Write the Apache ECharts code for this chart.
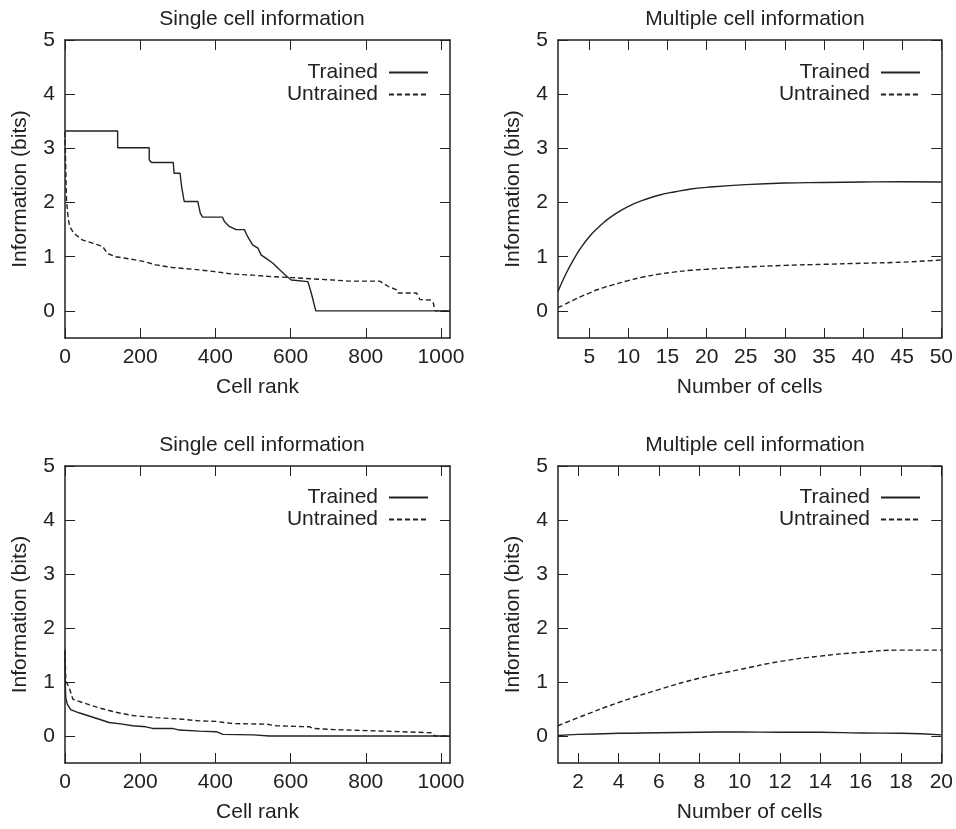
<!DOCTYPE html>
<html>
<head>
<meta charset="utf-8">
<script src="https://cdn.jsdelivr.net/npm/echarts@6/dist/echarts.min.js"></script>
<style>
  html, body { margin: 0; padding: 0; background: #fff; }
  #main { width: 956px; height: 829px; }
</style>
</head>
<body>
<div id="main"></div>
<script>
// single cell information, top panel: [cell rank, bits]
var rankTrainedTop = [[0,3.32],[140,3.32],[140,3.01],[224,3.01],[224,2.79],[230,2.74],[288,2.74],[290,2.54],[306,2.54],[310,2.3],[317,2.02],[353,2.02],[360,1.8],[366,1.73],[419,1.73],[424,1.65],[437,1.56],[455,1.5],[477,1.5],[486,1.37],[499,1.22],[513,1.16],[522,1.03],[535,0.97],[553,0.88],[571,0.76],[588,0.65],[602,0.57],[606,0.54],[646,0.54],[652,0.4],[655,0.33],[660,0.3],[667,0],[1024,0]];
var rankUntrainedTop = [[0,3.3],[2,2.6],[4,2.05],[8,1.75],[12,1.56],[24,1.43],[46,1.31],[73,1.25],[100,1.19],[113,1.06],[135,1.0],[180,0.95],[211,0.91],[242,0.85],[286,0.8],[340,0.77],[393,0.73],[446,0.68],[499,0.66],[553,0.63],[606,0.615],[660,0.59],[713,0.57],[757,0.55],[837,0.55],[860,0.45],[882,0.39],[886,0.33],[935,0.33],[944,0.21],[971,0.2],[980,0.14],[984,0],[1024,0]];

// multiple cell information, top panel
var cellsTop = [1,2,3,4,5,6,7,8,10,12,14,16,18,20,25,30,35,40,45,50];
var multiTrainedTop = [0.36,0.68,0.95,1.18,1.37,1.52,1.65,1.76,1.93,2.05,2.14,2.2,2.25,2.28,2.33,2.36,2.37,2.38,2.385,2.38];
var multiUntrainedTop = [0.06,0.13,0.2,0.27,0.33,0.39,0.44,0.48,0.56,0.63,0.68,0.72,0.75,0.77,0.81,0.84,0.86,0.88,0.9,0.94];

// single cell information, bottom panel
var rankTrainedBot = [[0,1.55],[1,0.9],[2,0.71],[6,0.59],[15,0.49],[37,0.43],[64,0.37],[91,0.31],[117,0.25],[153,0.22],[180,0.19],[215,0.17],[233,0.14],[286,0.14],[304,0.11],[357,0.09],[402,0.08],[420,0.03],[500,0.02],[544,0],[1024,0]];
var rankUntrainedBot = [[0,1.6],[2,1.02],[11,0.9],[21,0.68],[46,0.62],[91,0.52],[135,0.44],[180,0.38],[242,0.34],[313,0.31],[357,0.28],[402,0.27],[446,0.23],[535,0.22],[562,0.19],[651,0.17],[660,0.14],[713,0.12],[802,0.1],[891,0.08],[975,0.06],[984,0],[1024,0]];

// multiple cell information, bottom panel
var cellsBot = [1,2,4,6,8,10,12,14,16,18,20];
var multiTrainedBot = [0.01,0.03,0.05,0.06,0.07,0.074,0.07,0.07,0.055,0.05,0.02];
var multiUntrainedBot = [0.19,0.34,0.62,0.86,1.07,1.23,1.38,1.48,1.55,1.59,1.59];

// tick labels
var infoTicks = [0,1,2,3,4,5];
var rankTicks = [0,200,400,600,800,1000];
var cellTicksTop = [5,10,15,20,25,30,35,40,45,50];
var cellTicksBot = [2,4,6,8,10,12,14,16,18,20];

var ink = '#222';
var font = 'Liberation Sans, Arial, sans-serif';
var fs = 21;

function zip(xs, ys) {
  return xs.map(function (x, i) { return [x, ys[i]]; });
}

function xAx(grid, min, max, ticks, name, top) {
  return {
    type: 'value', gridIndex: grid, min: min, max: max,
    position: top ? 'top' : 'bottom',
    name: top ? '' : name, nameLocation: 'middle', nameGap: 39,
    nameTextStyle: { color: ink, fontSize: fs, fontFamily: font },
    splitLine: { show: false },
    axisLine: { onZero: false, lineStyle: { color: ink, width: 1.5 } },
    axisTick: { inside: true, length: 10, customValues: ticks, lineStyle: { color: ink, width: 1 } },
    axisLabel: { show: !top, customValues: ticks, color: ink, fontSize: fs, fontFamily: font, margin: 9,
      formatter: function (v) { return String(v); } }
  };
}
function yAx(grid, right) {
  return {
    type: 'value', gridIndex: grid, min: -0.5, max: 5,
    position: right ? 'right' : 'left',
    name: right ? '' : 'Information (bits)', nameLocation: 'middle', nameGap: 34,
    nameTextStyle: { color: ink, fontSize: fs, fontFamily: font },
    splitLine: { show: false },
    axisLine: { onZero: false, lineStyle: { color: ink, width: 1.5 } },
    axisTick: { inside: true, length: 10, customValues: infoTicks, lineStyle: { color: ink, width: 1 } },
    axisLabel: { show: !right, customValues: infoTicks, color: ink, fontSize: fs, fontFamily: font, margin: 10 }
  };
}
function ser(name, idx, data, dashed, smooth) {
  return {
    name: name, type: 'line', xAxisIndex: idx, yAxisIndex: idx, data: data,
    symbol: 'none', smooth: !!smooth, animation: false,
    lineStyle: { color: ink, width: 1.4, type: dashed ? [5, 3] : 'solid' },
    itemStyle: { color: ink }
  };
}
function leg(right, top) {
  return {
    data: ['Trained', 'Untrained'], orient: 'vertical', align: 'right',
    right: right, top: top, itemWidth: 39, itemHeight: 14, itemGap: 1,
    selectedMode: false,
    itemStyle: { color: 'rgba(0,0,0,0)', borderWidth: 0, opacity: 0 },
    textStyle: { color: ink, fontSize: fs, fontFamily: font, padding: [0, 6, 0, 0] }
  };
}

var chart = echarts.init(document.getElementById('main'));
chart.setOption({
  backgroundColor: '#fff',
  animation: false,
  title: [
    { text: 'Single cell information', left: 257, top: 4, textAlign: 'center' },
    { text: 'Multiple cell information', left: 750, top: 4, textAlign: 'center' },
    { text: 'Single cell information', left: 257, top: 430, textAlign: 'center' },
    { text: 'Multiple cell information', left: 750, top: 430, textAlign: 'center' }
  ].map(function (t) {
    t.textStyle = { color: ink, fontSize: fs, fontWeight: 'normal', fontFamily: font };
    return t;
  }),
  legend: [leg(522, 57), leg(30, 57), leg(522, 482), leg(30, 482)],
  grid: [
    { left: 65, right: 506, top: 40, height: 298 },
    { left: 558, right: 14, top: 40, height: 298 },
    { left: 65, right: 506, top: 466, height: 297 },
    { left: 558, right: 14, top: 466, height: 297 }
  ],
  xAxis: [
    xAx(0, 0, 1024, rankTicks, 'Cell rank', false),
    xAx(1, 1, 50, cellTicksTop, 'Number of cells', false),
    xAx(2, 0, 1024, rankTicks, 'Cell rank', false),
    xAx(3, 1, 20, cellTicksBot, 'Number of cells', false),
    xAx(0, 0, 1024, rankTicks, '', true),
    xAx(1, 1, 50, cellTicksTop, '', true),
    xAx(2, 0, 1024, rankTicks, '', true),
    xAx(3, 1, 20, cellTicksBot, '', true)
  ],
  yAxis: [
    yAx(0, false), yAx(1, false), yAx(2, false), yAx(3, false),
    yAx(0, true), yAx(1, true), yAx(2, true), yAx(3, true)
  ],
  series: [
    ser('Trained', 0, rankTrainedTop, false),
    ser('Untrained', 0, rankUntrainedTop, true),
    ser('Trained', 1, zip(cellsTop, multiTrainedTop), false, true),
    ser('Untrained', 1, zip(cellsTop, multiUntrainedTop), true, true),
    ser('Trained', 2, rankTrainedBot, false),
    ser('Untrained', 2, rankUntrainedBot, true),
    ser('Trained', 3, zip(cellsBot, multiTrainedBot), false, true),
    ser('Untrained', 3, zip(cellsBot, multiUntrainedBot), true, true)
  ]
});
</script>
</body>
</html>
